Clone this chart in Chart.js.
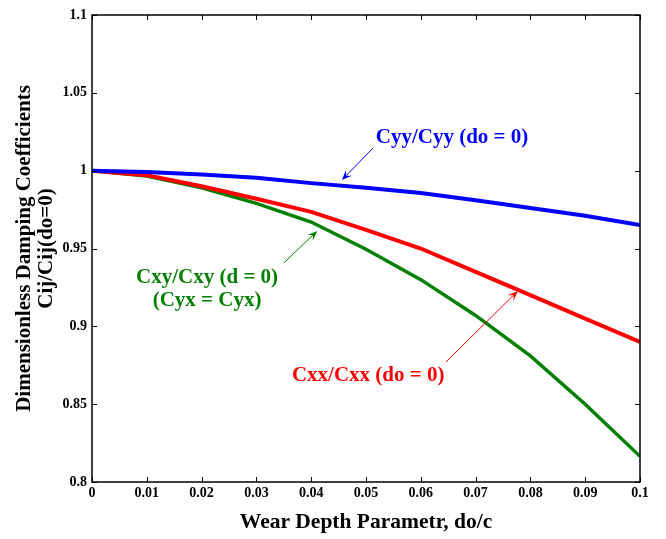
<!DOCTYPE html>
<html>
<head>
<meta charset="utf-8">
<script src="https://cdn.jsdelivr.net/npm/chart.js@4/dist/chart.umd.min.js"></script>
<style>
	html, body { margin: 0; padding: 0; background: #fff; }
	#wrap { width: 666px; height: 539px; }
</style>
</head>
<body>
<div id="wrap"><canvas id="chart" width="666" height="539"></canvas></div>
<script>
// wear depth parameter do/c
const wearDepth = [0, 0.01, 0.02, 0.03, 0.04, 0.05, 0.06, 0.07, 0.08, 0.09, 0.1]
// damping coefficient ratios
const cyyRatio = [1.0, 0.9992, 0.9975, 0.9955, 0.992, 0.989, 0.9857, 0.981, 0.976, 0.971, 0.965]
const cxxRatio = [1.0, 0.997, 0.990, 0.982, 0.9735, 0.962, 0.950, 0.935, 0.920, 0.905, 0.890]
const cxyRatio = [1.0, 0.9965, 0.989, 0.979, 0.967, 0.9495, 0.930, 0.907, 0.881, 0.850, 0.8165]

const xTicks = [0, 0.01, 0.02, 0.03, 0.04, 0.05, 0.06, 0.07, 0.08, 0.09, 0.1]
const yTicks = [0.8, 0.85, 0.9, 0.95, 1, 1.05, 1.1]

const serif = "'Liberation Serif', 'Times New Roman', serif"

// text labels with arrows, in data units
const notes = [
	{ lines: ["Cyy/Cyy (do = 0)"], color: "#0000ff", x: 0.0657, y: 1.021, from: [0.0513, 1.0146], to: [0.0456, 0.994] },
	{ lines: ["Cxy/Cxy (d = 0)", "(Cyx = Cyx)"], color: "#008000", x: 0.021, y: 0.9311, from: [0.035, 0.9407], to: [0.0411, 0.9613] },
	{ lines: ["Cxx/Cxx (do = 0)"], color: "#ff0000", x: 0.0504, y: 0.8681, from: [0.0646, 0.8771], to: [0.0777, 0.9227] },
]

const toPoints = ys => ys.map((y, i) => ({ x: wearDepth[i], y: y }))

const frame = {
	id: "frame",
	afterDatasetsDraw(chart) {
		const ctx = chart.ctx
		const a = chart.chartArea
		const xs = chart.scales.x
		const ys = chart.scales.y
		ctx.save()
		ctx.strokeStyle = "#000"
		ctx.lineWidth = 1
		xTicks.forEach(v => {
			const px = Math.round(xs.getPixelForValue(v)) + 0.5
			ctx.beginPath()
			ctx.moveTo(px, a.bottom); ctx.lineTo(px, a.bottom - 5)
			ctx.moveTo(px, a.top); ctx.lineTo(px, a.top + 5)
			ctx.stroke()
		})
		yTicks.forEach(v => {
			const py = Math.round(ys.getPixelForValue(v)) + 0.5
			ctx.beginPath()
			ctx.moveTo(a.left, py); ctx.lineTo(a.left + 5, py)
			ctx.moveTo(a.right, py); ctx.lineTo(a.right - 5, py)
			ctx.stroke()
		})
		ctx.lineWidth = 1.5
		ctx.strokeRect(a.left, a.top, a.right - a.left, a.bottom - a.top)

		ctx.font = "bold 21px " + serif
		ctx.textAlign = "center"
		ctx.textBaseline = "middle"
		notes.forEach(n => {
			ctx.fillStyle = n.color
			ctx.strokeStyle = n.color
			const cx = xs.getPixelForValue(n.x)
			const cy = ys.getPixelForValue(n.y)
			n.lines.forEach((t, i) => ctx.fillText(t, cx, cy + i * 23))
			const x1 = xs.getPixelForValue(n.from[0]), y1 = ys.getPixelForValue(n.from[1])
			const x2 = xs.getPixelForValue(n.to[0]), y2 = ys.getPixelForValue(n.to[1])
			const ang = Math.atan2(y2 - y1, x2 - x1)
			ctx.lineWidth = 1
			ctx.beginPath()
			ctx.moveTo(x1, y1)
			ctx.lineTo(x2 - 6 * Math.cos(ang), y2 - 6 * Math.sin(ang))
			ctx.stroke()
			ctx.beginPath()
			ctx.moveTo(x2, y2)
			ctx.lineTo(x2 - 10 * Math.cos(ang) + 4 * Math.sin(ang), y2 - 10 * Math.sin(ang) - 4 * Math.cos(ang))
			ctx.lineTo(x2 - 6 * Math.cos(ang), y2 - 6 * Math.sin(ang))
			ctx.lineTo(x2 - 10 * Math.cos(ang) - 4 * Math.sin(ang), y2 - 10 * Math.sin(ang) + 4 * Math.cos(ang))
			ctx.closePath()
			ctx.fill()
		})
		ctx.restore()
	},
}

const fmt = v => String(+(+v).toFixed(3))

new Chart(document.getElementById("chart"), {
	type: "line",
	data: {
		datasets: [
			{ label: "Cyy", data: toPoints(cyyRatio), borderColor: "#0000ff", borderWidth: 4 },
			{ label: "Cxx", data: toPoints(cxxRatio), borderColor: "#ff0000", borderWidth: 4 },
			{ label: "Cxy", data: toPoints(cxyRatio), borderColor: "#008000", borderWidth: 3.5 },
		],
	},
	options: {
		responsive: false,
		animation: false,
		layout: { padding: { top: 15, right: 26, left: 0, bottom: 0 } },
		elements: { point: { radius: 0 }, line: { tension: 0 } },
		plugins: { legend: { display: false }, tooltip: { enabled: false } },
		scales: {
			x: {
				type: "linear",
				min: 0,
				max: 0.1,
				afterBuildTicks: s => { s.ticks = xTicks.map(v => ({ value: v })) },
				afterFit: s => { s.height = 57 },
				grid: { drawOnChartArea: false, drawTicks: false },
				border: { display: false },
				ticks: { padding: 3, color: "#000", font: { family: serif, size: 14, weight: "bold" }, callback: fmt, maxRotation: 0, autoSkip: false },
				title: { display: true, text: "Wear Depth Parametr, do/c", color: "#000", font: { family: serif, size: 21.5, weight: "bold", lineHeight: 1.2 }, padding: { top: 0, bottom: 4 } },
			},
			y: {
				type: "linear",
				min: 0.8,
				max: 1.1,
				afterBuildTicks: s => { s.ticks = yTicks.map(v => ({ value: v })) },
				afterFit: s => { s.width = 92 },
				grid: { drawOnChartArea: false, drawTicks: false },
				border: { display: false },
				ticks: { padding: 5, color: "#000", font: { family: serif, size: 14, weight: "bold" }, callback: fmt, autoSkip: false },
				title: { display: true, text: ["Dimensionless Damping Coefficients", "Cij/Cij(do=0)"], color: "#000", font: { family: serif, size: 21, weight: "bold", lineHeight: 1.05 }, padding: { top: 14, bottom: 0 } },
			},
		},
	},
	plugins: [frame],
})
</script>
</body>
</html>
